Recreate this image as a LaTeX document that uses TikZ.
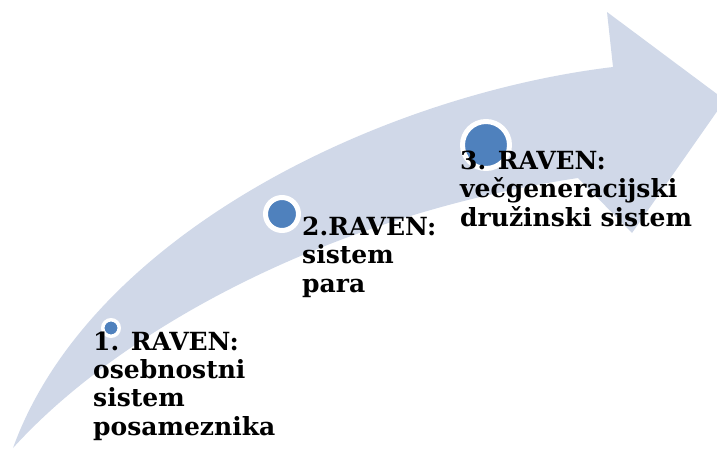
\documentclass[tikz,border=0pt]{standalone}
\usepackage{fontspec}
\setmainfont{DejaVu Serif}
\usepackage{tikz}
\usetikzlibrary{positioning}

\definecolor{arrowfill}{RGB}{208,216,232}
\definecolor{dotblue}{RGB}{79,129,189}

\begin{document}
\begin{tikzpicture}[x=1pt,y=-1pt,thin]

                \tikzset{dot/.style={circle, fill=dotblue, draw=white, inner sep=0pt},
                         level/.style={anchor=base west, align=left, inner sep=0pt,
                                       font=\fontsize{25}{28.3}\selectfont\bfseries}}

                \useasboundingbox (0,0) rectangle (717,450);
                \clip (0,0) rectangle (717,450);

                % the big curved arrow
                \fill[arrowfill] (13,448) .. controls (120,330) and (330,215) .. (578,178)
                        -- (632,233) -- (725,100) -- (607,12) -- (613,67)
                        .. controls (380,95) and (90,235) .. (13,448) -- cycle;

                \node[dot, minimum size=16.5pt, line width=3.5pt] (D1) at (111,328) {};
                \node[dot, minimum size=33pt, line width=5pt] (D2) at (282,214) {};
                \node[dot, minimum size=47pt, line width=5pt] (D3) at (486,145) {};

                % anchor base = last line
                \node[level] (L1) at (93,435) {1. RAVEN:\\osebnostni\\sistem\\posameznika};
                \node[level] (L2) at (302,292) {2.RAVEN:\\sistem\\para};
                \node[level] (L3) at (460,226) {3. RAVEN:\\večgeneracijski\\družinski sistem};
            \end{tikzpicture}
\end{document}
